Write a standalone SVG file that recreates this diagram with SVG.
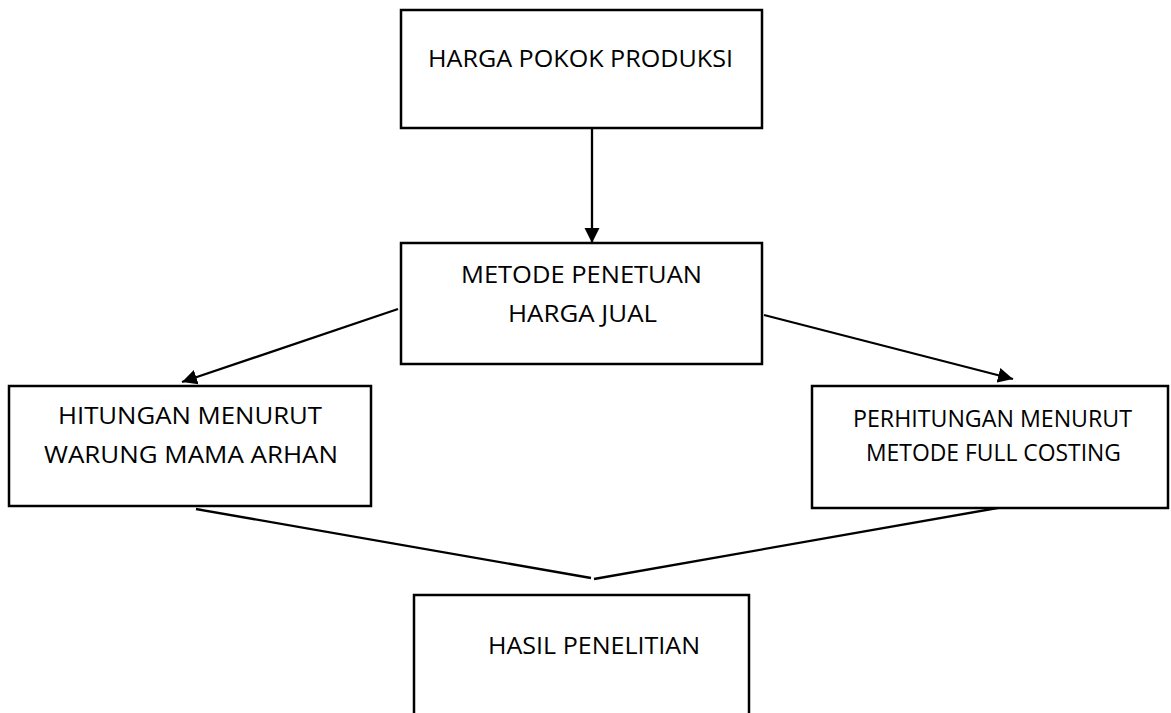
<svg xmlns="http://www.w3.org/2000/svg" width="1171" height="713" viewBox="0 0 1171 713">
<style>
.box{fill:#fff;stroke:#000;stroke-width:2.5}
.lbl{font-family:"Open Sans","Liberation Sans",sans-serif;font-size:23.5px;fill:#000}
.conn{stroke:#000;stroke-width:2.3;fill:none}
</style>
<defs>
<marker id="ah" markerUnits="userSpaceOnUse" markerWidth="16" markerHeight="16" viewBox="0 0 16 16" refX="15" refY="8" orient="auto">
<path d="M0,0.5 L15,8 L0,15.5 Z" fill="#000"/>
</marker>
</defs>
<rect width="1171" height="713" fill="#fff"/>
<g id="connectors">
<line class="conn" x1="592" y1="128" x2="592" y2="243" marker-end="url(#ah)"/>
<line class="conn" x1="398" y1="309" x2="182" y2="382" marker-end="url(#ah)"/>
<line class="conn" x1="764" y1="315" x2="1013" y2="379" marker-end="url(#ah)"/>
<line class="conn" x1="196" y1="509" x2="591" y2="578"/>
<line class="conn" x1="1003" y1="507" x2="594" y2="579"/>
</g>
<g id="node-hpp">
<rect class="box" x="401" y="10" width="361" height="118"/>
<text class="lbl" x="428" y="67" textLength="305" lengthAdjust="spacingAndGlyphs">HARGA POKOK PRODUKSI</text>
</g>
<g id="node-metode">
<rect class="box" x="401" y="243" width="361" height="121"/>
<text class="lbl" x="461" y="283" textLength="241" lengthAdjust="spacingAndGlyphs">METODE PENETUAN</text>
<text class="lbl" x="508" y="322" textLength="149" lengthAdjust="spacingAndGlyphs">HARGA JUAL</text>
</g>
<g id="node-warung">
<rect class="box" x="9" y="386" width="362" height="120"/>
<text class="lbl" x="58" y="424" textLength="264" lengthAdjust="spacingAndGlyphs">HITUNGAN MENURUT</text>
<text class="lbl" x="44" y="463" textLength="294" lengthAdjust="spacingAndGlyphs">WARUNG MAMA ARHAN</text>
</g>
<g id="node-fullcosting">
<rect class="box" x="812" y="386" width="356" height="122"/>
<text class="lbl" x="853" y="427" textLength="279" lengthAdjust="spacingAndGlyphs">PERHITUNGAN MENURUT</text>
<text class="lbl" x="866" y="461" textLength="255" lengthAdjust="spacingAndGlyphs">METODE FULL COSTING</text>
</g>
<g id="node-hasil">
<rect class="box" x="414" y="595" width="335" height="130"/>
<text class="lbl" x="488" y="654" textLength="212" lengthAdjust="spacingAndGlyphs">HASIL PENELITIAN</text>
</g>
</svg>
